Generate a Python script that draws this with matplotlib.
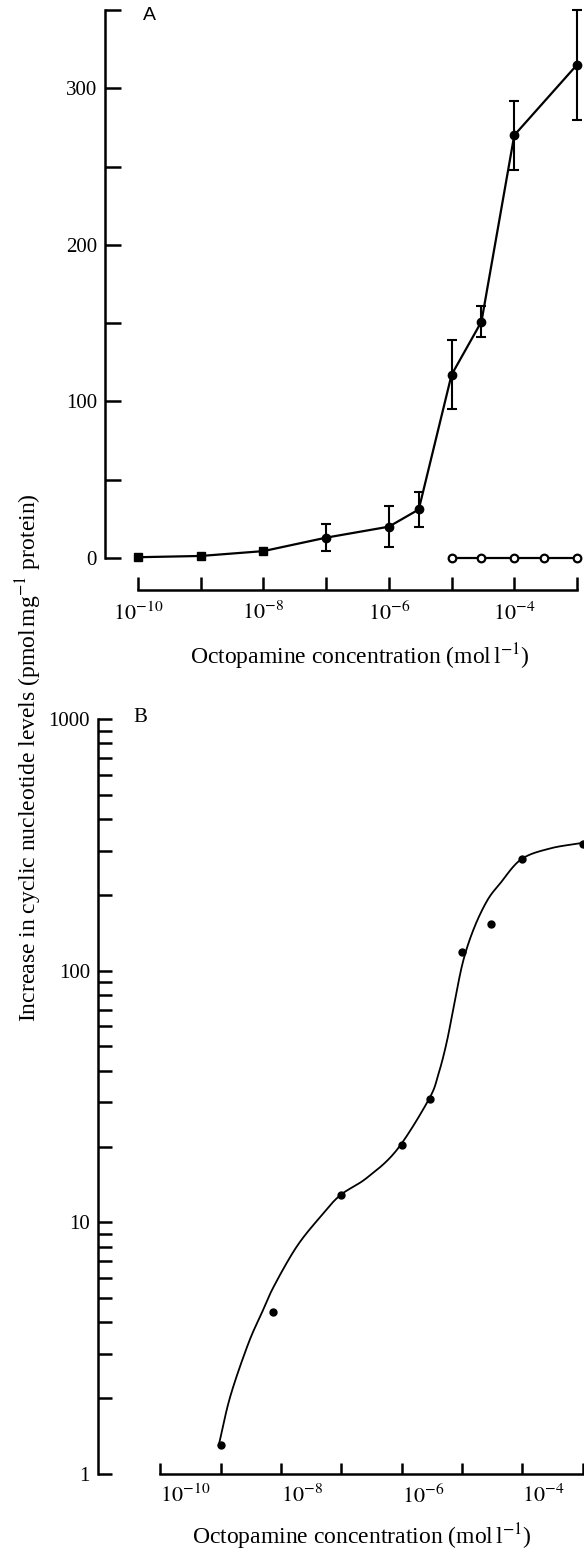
import numpy as np
import matplotlib
matplotlib.use('Agg')
import matplotlib.pyplot as plt
from matplotlib.ticker import FixedLocator, FixedFormatter, NullFormatter, LogLocator
import matplotlib.transforms as mtransforms

plt.rcParams['font.family'] = ['Liberation Serif', 'DejaVu Serif']
plt.rcParams['mathtext.fontset'] = 'stix'

# ---------------- data ----------------
# Panel A: octopamine dose-response (filled) with SEM
conc_A = [1e-10, 1e-9, 1e-8, 1e-7, 1e-6, 3e-6, 1e-5, 3e-5, 1e-4, 1e-3]
level_A = [0.5, 1.3, 4.4, 13, 20, 31, 117, 151, 270, 315]
sem_A = [0, 0, 0, 8.5, 13, 11, 22, 10, 22, 35]
# Panel A: open symbols (near zero)
conc_A_open = [1e-5, 3e-5, 1e-4, 3e-4, 1e-3]
level_A_open = [0, 0, 0, 0, 0]

# Panel B: log-log plot of the same increases
conc_B = [1e-9, 7.5e-9, 1e-7, 1e-6, 3e-6, 1e-5, 3e-5, 1e-4, 1e-3]
level_B = [1.3, 4.4, 12.8, 20.3, 30.9, 119, 153, 277, 318]
# hand-drawn smooth curve in panel B
curve_conc_exp = [-9.03, -8.84, -8.54, -8.32, -8.12, -7.74, -7.35, -7.02, -6.58,
                  -6.08, -5.55, -5.39, -5.25, -5.12, -4.98, -4.80, -4.58, -4.37,
                  -4.02, -3.54, -3.00]
curve_level = [1.30, 2.03, 3.30, 4.35, 5.55, 8.0, 10.5, 12.8, 15.0,
               19.4, 30.8, 38.9, 52.5, 75.9, 109.6, 147.9, 190.5, 222.0,
               277.0, 306.0, 322.0]

x_ticks = [1e-10, 1e-9, 1e-8, 1e-7, 1e-6, 1e-5, 1e-4, 1e-3]
x_tick_labels = [r'$10^{-10}$', '', r'$10^{-8}$', '', r'$10^{-6}$', '', r'$10^{-4}$', '']
yA_major = [0, 100, 200, 300]
yA_minor = [50, 150, 250, 350]
yB_major = [1, 10, 100, 1000]
yB_labels = ['1', '10', '100', '1000']

xlabel = r'Octopamine concentration (mol$\,$l$^{-1}$)'
ylabel = r'Increase in cyclic nucleotide levels (pmol$\,$mg$^{-1}$ protein)'

# ---------------- figure ----------------
W, H = 584, 1553
fig = plt.figure(figsize=(W / 100, H / 100), dpi=100)
PX = 0.72  # points per pixel

def fx(px):
    return px / W

def fy(py):
    return 1 - py / H

LW = 1.8
FS_Y = 15
FS_X = 16
FS_LAB = 17

def catmull_rom(xs, ys, n=24):
    xs = np.asarray(xs, float)
    ys = np.asarray(ys, float)
    px = np.concatenate([[2 * xs[0] - xs[1]], xs, [2 * xs[-1] - xs[-2]]])
    py = np.concatenate([[2 * ys[0] - ys[1]], ys, [2 * ys[-1] - ys[-2]]])
    ox, oy = [], []
    t = np.linspace(0, 1, n, endpoint=False)
    for i in range(1, len(px) - 2):
        for P, out in ((px, ox), (py, oy)):
            p0, p1, p2, p3 = P[i - 1], P[i], P[i + 1], P[i + 2]
            out.extend(0.5 * ((2 * p1) + (-p0 + p2) * t
                              + (2 * p0 - 5 * p1 + 4 * p2 - p3) * t ** 2
                              + (-p0 + 3 * p1 - 3 * p2 + p3) * t ** 3))
    ox.append(xs[-1]); oy.append(ys[-1])
    return np.array(ox), np.array(oy)

def style_axes(ax, xtick_len, ytick_len):
    for s in ('top', 'right'):
        ax.spines[s].set_visible(False)
    for s in ('left', 'bottom'):
        ax.spines[s].set_linewidth(LW)
    ax.tick_params(axis='y', which='both', direction='in', length=ytick_len * PX,
                   width=LW, pad=8 * PX, labelsize=FS_Y)
    ax.tick_params(axis='x', which='both', direction='in', length=xtick_len * PX,
                   width=LW, labelsize=FS_X)
    ax.set_xscale('log')
    ax.xaxis.set_major_locator(FixedLocator(x_ticks))
    ax.xaxis.set_major_formatter(FixedFormatter(x_tick_labels))
    ax.xaxis.set_minor_locator(FixedLocator([]))
    ax.spines['bottom'].set_bounds(x_ticks[0], x_ticks[-1])
    shift = mtransforms.ScaledTranslation(-8 / 100, 0, fig.dpi_scale_trans)
    for lab in ax.get_xticklabels():
        lab.set_horizontalalignment('left')
        lab.set_transform(lab.get_transform() + shift)

# ---------------- Panel A ----------------
axA = fig.add_axes([fx(105), fy(558), fx(584 - 105), (558 - 10) / H])
axA.set_xlim(10 ** -10.526, 10 ** -2.888)
axA.set_ylim(0, 350)
style_axes(axA, 13, 16)
axA.spines['bottom'].set_position(('outward', 32 * PX))
axA.spines['left'].set_bounds(0, 350)
axA.yaxis.set_major_locator(FixedLocator(yA_major))
axA.yaxis.set_minor_locator(FixedLocator(yA_minor))
axA.tick_params(axis='x', pad=12 * PX)

axA.plot(conc_A, level_A, color='black', lw=1.6, clip_on=False, zorder=3)
axA.plot(conc_A[:3], level_A[:3], 's', color='black', ms=6, clip_on=False, zorder=4)
axA.errorbar(conc_A[3:], level_A[3:], yerr=sem_A[3:], fmt='o', color='black',
             ms=6, elinewidth=1.5, capsize=3.5, capthick=1.5, clip_on=False, zorder=4)
axA.plot(conc_A_open, level_A_open, '-o', color='black', lw=1.6, ms=5.5,
         mfc='white', mew=1.6, clip_on=False, zorder=4)

fig.text(fx(143), fy(15), 'A', fontsize=14, family=['Liberation Sans', 'DejaVu Sans'],
         ha='left', va='center')
fig.text(fx(360), fy(657), xlabel, fontsize=FS_LAB, ha='center', va='center')

# ---------------- Panel B ----------------
axB = fig.add_axes([fx(98), fy(1474), fx(584 - 98), (1474 - 719) / H])
axB.set_yscale('log')
axB.set_xlim(10 ** -11.03, 10 ** -2.98)
axB.set_ylim(1, 1000)
style_axes(axB, 11, 14)
axB.spines['left'].set_bounds(1, 1000)
axB.yaxis.set_major_locator(FixedLocator(yB_major))
axB.yaxis.set_major_formatter(FixedFormatter(yB_labels))
axB.yaxis.set_minor_locator(LogLocator(base=10, subs=np.arange(2, 10)))
axB.yaxis.set_minor_formatter(NullFormatter())
axB.tick_params(axis='x', pad=11 * PX)

cx, cy = catmull_rom(curve_conc_exp, np.log10(curve_level))
axB.plot(10 ** cx, 10 ** cy, color='black', lw=1.3, clip_on=False, zorder=3)
axB.plot(conc_B, level_B, 'o', color='black', ms=5, clip_on=False, zorder=4)

fig.text(fx(133), fy(718), 'B', fontsize=15, ha='left', va='center')
fig.text(fx(362), fy(1537), xlabel, fontsize=FS_LAB, ha='center', va='center')

fig.text(fx(29), fy(758), ylabel, fontsize=FS_LAB, rotation=90, ha='center', va='center')

fig.savefig('out.png', dpi=100)
